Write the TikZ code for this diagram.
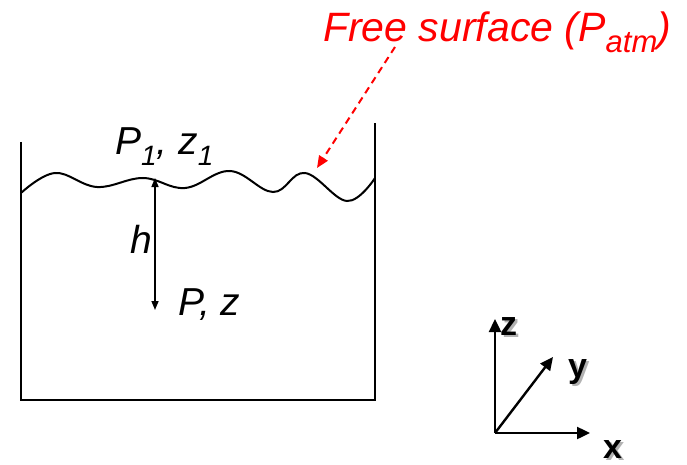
\documentclass[tikz,border=0pt]{standalone}
\usepackage{fontspec}
\setmainfont{Liberation Sans}
\usetikzlibrary{arrows.meta}
\newcommand{\shadowed}[1]{\rlap{\kern2.5pt\raisebox{-2.5pt}{\textcolor{black!30}{#1}}}#1}
\newcommand{\mysub}[2]{\raisebox{-0.26em}{\fontsize{#2}{#2}\selectfont #1}}
\begin{document}
\begin{tikzpicture}[x=1pt,y=-1pt,
  wall/.style={line width=2pt},
  lbl/.style={font=\fontsize{39}{44}\selectfont\itshape, inner sep=0, anchor=base west},
  axisarrow/.style={line width=2.4pt, -{Triangle[length=13pt,width=12pt]}},
  axlbl/.style={font=\fontsize{34}{40}\selectfont\bfseries, inner sep=0, anchor=base west}]
\useasboundingbox (0,0) rectangle (687,465);
% tank
\draw[wall] (21,142) -- (21,400) -- (375,400) -- (375,123);
% free surface
\draw[line width=2pt] plot[smooth, tension=0.65] coordinates
  {(21,193) (55,173) (97,187) (143,178) (185,188) (230,171) (273,192) (305,173) (347,201) (375,178)};
% labels
\node[lbl] (p1) at (115,155) {P\mysub{1}{28}, z\mysub{1}{28}};
\node[lbl] (h) at (130,253) {h};
\node[lbl] (pz) at (178,315) {P, z};
\node[lbl, font=\fontsize{41}{46}\selectfont\itshape, text=red] (fs) at (323,42) {Free surface (P\mysub{atm}{31})};
% depth arrow
\coordinate (htop) at (155,178);
\coordinate (hbot) at (155,310);
\draw[line width=1.6pt, {Triangle[length=9pt,width=7pt]}-{Triangle[length=9pt,width=7pt]}] (hbot) -- (htop);
% red dashed pointer
\coordinate (fstail) at (395,47);
\coordinate (fshead) at (317,168);
\draw[red, line width=2pt, dash pattern=on 7pt off 5pt, -{Triangle[length=12pt,width=10pt]}] (fstail) -- (fshead);
% axes
\coordinate (O) at (495,433);
\coordinate (zend) at (495,319);
\coordinate (xend) at (590,433);
\coordinate (yend) at (553,357);
\draw[axisarrow] (O) -- (zend);
\draw[axisarrow] (O) -- (xend);
\draw[axisarrow] (O) -- (yend);
\node[axlbl] (zl) at (500,335) {\shadowed{z}};
\node[axlbl] (yl) at (568,377) {\shadowed{y}};
\node[axlbl] (xl) at (603,458) {\shadowed{x}};
\end{tikzpicture}
\end{document}
